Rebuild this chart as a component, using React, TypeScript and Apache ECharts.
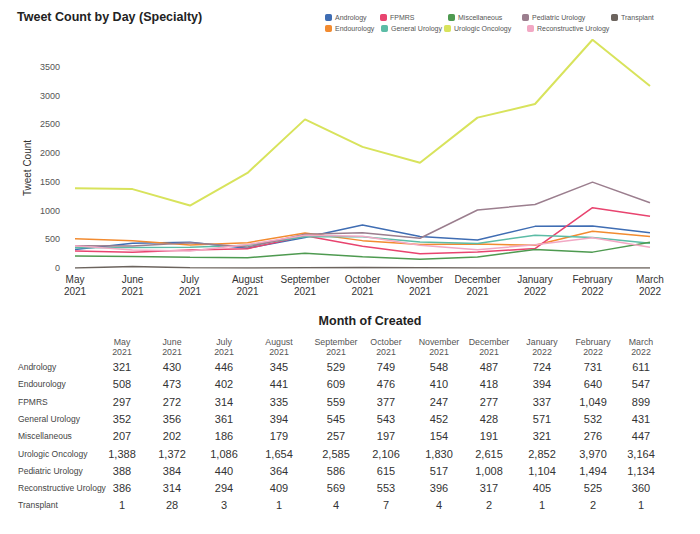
import React, { useEffect, useRef } from "react";
import * as echarts from "echarts";

const months = [
  "May\n2021", "June\n2021", "July\n2021", "August\n2021", "September\n2021",
  "October\n2021", "November\n2021", "December\n2021", "January\n2022",
  "February\n2022", "March\n2022",
];

const specialties = [
  "Andrology", "Endourology", "FPMRS", "General Urology", "Miscellaneous",
  "Urologic Oncology", "Pediatric Urology", "Reconstructive Urology", "Transplant",
];

const andrology = [321, 430, 446, 345, 529, 749, 548, 487, 724, 731, 611];
const endourology = [508, 473, 402, 441, 609, 476, 410, 418, 394, 640, 547];
const fpmrs = [297, 272, 314, 335, 559, 377, 247, 277, 337, 1049, 899];
const generalUrology = [352, 356, 361, 394, 545, 543, 452, 428, 571, 532, 431];
const miscellaneous = [207, 202, 186, 179, 257, 197, 154, 191, 321, 276, 447];
const urologicOncology = [1388, 1372, 1086, 1654, 2585, 2106, 1830, 2615, 2852, 3970, 3164];
const pediatricUrology = [388, 384, 440, 364, 586, 615, 517, 1008, 1104, 1494, 1134];
const reconstructiveUrology = [386, 314, 294, 409, 569, 553, 396, 317, 405, 525, 360];
const transplant = [1, 28, 3, 1, 4, 7, 4, 2, 1, 2, 1];

const seriesValues = [
  andrology, endourology, fpmrs, generalUrology, miscellaneous,
  urologicOncology, pediatricUrology, reconstructiveUrology, transplant,
];

const colors = [
  "#3f6db3", "#f28b30", "#e8446f", "#5cbca6", "#4e9a50",
  "#d8e35c", "#9b7e8e", "#f2a8c4", "#6c645e",
];

// legend layout (left, top) per item
const legendPos: [number, number][] = [
  [325, 14], [325, 25], [380, 14], [381, 25], [448, 14],
  [444, 25], [522, 14], [527, 25], [611, 14],
];

const tableColX = [122, 172, 224, 279, 336, 386, 439, 489, 542, 593, 641];
const tableRowY0 = 367;
const tableRowStep = 17.3;

const FONT = "'Liberation Sans', Arial, Helvetica, sans-serif";

function fmt(n: number): string {
  return String(n).replace(/\B(?=(\d{3})+(?!\d))/g, ",");
}

export default function App() {
  const ref = useRef<HTMLDivElement>(null);
  useEffect(() => {
    document.body.style.margin = "0";
    if (!ref.current) return;
    const chart = echarts.init(ref.current, null, { renderer: "svg" });

    const graphics: any[] = [];
    graphics.push({
      type: "text",
      style: {
        text: "Tweet Count by Day (Specialty)", x: 17, y: 17, fill: "#222",
        fontSize: 12.5, fontWeight: "bold", fontFamily: FONT, verticalAlign: "middle",
      },
    });
    graphics.push({
      type: "text", x: 27, y: 168, rotation: Math.PI / 2,
      style: {
        text: "Tweet Count", x: 0, y: 0, fill: "#333", fontSize: 10,
        fontFamily: FONT, align: "center", verticalAlign: "middle",
      },
    });
    graphics.push({
      type: "text",
      style: {
        text: "Month of Created", x: 370, y: 321, fill: "#222", fontSize: 12.5,
        fontWeight: "bold", fontFamily: FONT, align: "center", verticalAlign: "middle",
      },
    });
    months.forEach((m, i) => {
      graphics.push({
        type: "text",
        style: {
          text: m, x: tableColX[i], y: 347, fill: "#555", fontSize: 8.8, lineHeight: 10.5,
          fontFamily: FONT, align: "center", verticalAlign: "middle",
        },
      });
    });
    specialties.forEach((s, r) => {
      const y = tableRowY0 + r * tableRowStep;
      graphics.push({
        type: "text",
        style: {
          text: s, x: 18, y, fill: "#444", fontSize: 8.5, fontFamily: FONT,
          align: "left", verticalAlign: "middle",
        },
      });
      seriesValues[r].forEach((v, i) => {
        graphics.push({
          type: "text",
          style: {
            text: fmt(v), x: tableColX[i], y, fill: "#333", fontSize: 11,
            fontFamily: FONT, align: "center", verticalAlign: "middle",
          },
        });
      });
    });

    const option: any = {
      animation: false,
      backgroundColor: "#ffffff",
      textStyle: { fontFamily: FONT },
      color: colors,
      legend: specialties.map((s, i) => ({
        data: [s],
        left: legendPos[i][0],
        top: legendPos[i][1],
        padding: 0,
        itemWidth: 7,
        itemHeight: 7,
        itemGap: 4,
        icon: "roundRect",
        selectedMode: false,
        textStyle: { fontSize: 7, color: "#555", fontFamily: FONT, padding: [0, 0, 0, -2] },
      })),
      grid: { left: 75, right: 50, top: 38, bottom: 266, containLabel: false },
      xAxis: {
        type: "category",
        data: months,
        boundaryGap: false,
        axisLine: { show: false },
        axisTick: { show: false },
        axisLabel: { color: "#333", fontSize: 10, lineHeight: 12, margin: 5, interval: 0 },
        splitLine: { show: false },
      },
      yAxis: {
        type: "value",
        min: 0,
        max: 4000,
        interval: 500,
        axisLine: { show: false },
        axisTick: { show: false },
        splitLine: { show: false },
        axisLabel: {
          color: "#555", fontSize: 9, margin: 15, showMaxLabel: false,
          formatter: (v: number) => String(v),
        },
      },
      series: specialties.map((s, i) => ({
        name: s,
        type: "line",
        data: seriesValues[i],
        symbol: "none",
        lineStyle: { width: s === "Urologic Oncology" ? 2 : 1.5, color: colors[i] },
        itemStyle: { color: colors[i] },
        z: s === "Urologic Oncology" ? 1 : 2,
      })),
      graphic: graphics,
    };
    chart.setOption(option);
    return () => chart.dispose();
  }, []);
  return <div ref={ref} style={{ width: 700, height: 534 }} />;
}
